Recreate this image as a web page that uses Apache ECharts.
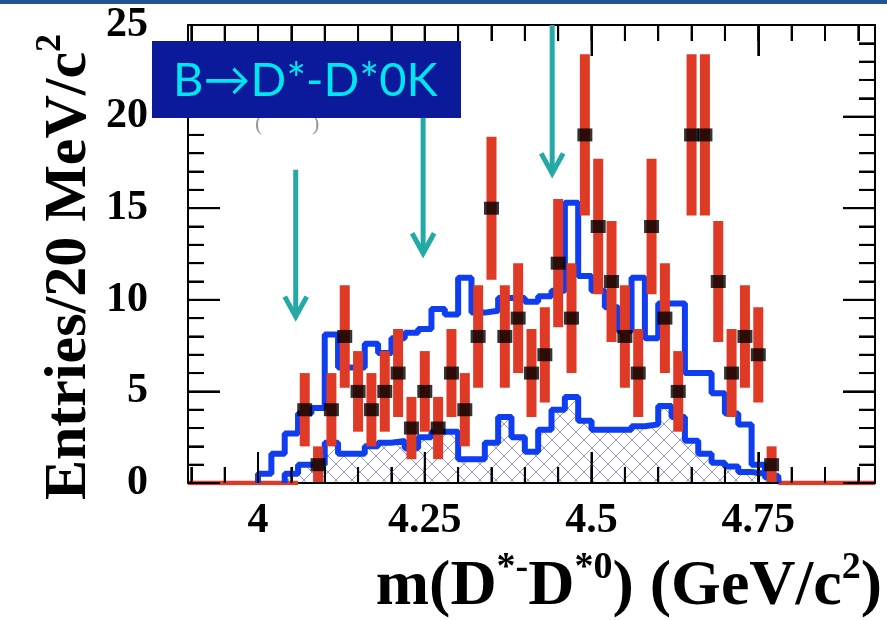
<!DOCTYPE html>
<html><head><meta charset="utf-8">
<script src="https://cdn.jsdelivr.net/npm/echarts@6/dist/echarts.min.js"></script>
<style>html,body{margin:0;padding:0;background:#fff}
#wrap{position:relative;width:887px;height:620px}
#c,#o{position:absolute;left:0;top:0;width:887px;height:620px}
#o{pointer-events:none}</style>
</head><body><div id="wrap"><div id="c"></div><div id="o"></div></div>
<script>
// ---- tick labels / tick positions ----
const xTickLabels = [4, 4.25, 4.5, 4.75];
const xMinorTicks = [3.9,3.95,4.0,4.05,4.1,4.15,4.2,4.25,4.3,4.35,4.4,4.45,4.5,4.55,4.6,4.65,4.7,4.75,4.8,4.85,4.9];
const yTickLabels = [0, 5, 10, 15, 20, 25];
const yMinorTicks = [1,2,3,4,6,7,8,9,11,12,13,14,16,17,18,19,21,22,23,24];

// ---- data points (20 MeV bins) ----
const dataMass   = [4.07,4.09,4.11,4.13,4.15,4.17,4.19,4.21,4.23,4.25,4.27,4.29,4.31,4.33,4.35,4.37,4.39,4.41,4.43,4.45,4.47,4.49,4.51,4.53,4.55,4.57,4.59,4.61,4.63,4.65,4.67,4.69,4.71,4.73,4.75,4.77];
const dataCounts = [4,1,4,8,5,4,5,6,3,5,3,6,4,8,15,8,9,6,7,12,9,19,14,11,8,6,14,9,5,19,19,11,6,8,7,1];
const dataErr    = [2.0,1.0,2.0,2.8,2.2,2.0,2.2,2.4,1.7,2.2,1.7,2.4,2.0,2.8,3.9,2.8,3.0,2.4,2.6,3.5,3.0,4.4,3.7,3.3,2.8,2.4,3.7,3.0,2.2,4.4,4.4,3.3,2.4,2.8,2.6,1.0];
// empty bins drawn as red line at zero
const emptyRanges = [[3.895, 4.06], [4.78, 4.925]];

// ---- MC histograms ----
const mcMass = [4.01,4.03,4.05,4.07,4.09,4.11,4.13,4.15,4.17,4.19,4.21,4.23,4.25,4.27,4.29,4.31,4.33,4.35,4.37,4.39,4.41,4.43,4.45,4.47,4.49,4.51,4.53,4.55,4.57,4.59,4.61,4.63,4.65,4.67,4.69,4.71,4.73,4.75,4.77,4.79];
const mcTotal = [0.5,1.6,2.7,3.8,4.1,8.1,6.3,6.3,7.6,7.1,7.9,8.2,8.4,9.5,9.2,11.2,9.3,9.4,10.1,10.1,9.9,10.2,10.5,15.3,11.3,10.5,9.6,8.3,11.2,7.9,9.8,9.8,6.0,6.0,4.9,3.8,3.2,1.0,0.4,0];
const mcBackground = [0,0,0.5,1.0,1.0,2.2,1.6,1.6,2.0,2.2,2.3,1.9,2.5,2.8,2.8,1.3,1.3,2.2,3.6,2.5,1.7,2.9,4.0,4.7,3.4,2.9,2.9,2.9,3.1,3.2,4.2,3.6,2.3,1.6,1.1,0.9,0.6,0.5,0.3,0];

// ---- annotation arrows (data coords) ----
const arrowX   = [4.0565, 4.2475, 4.441];
const arrowTop = [17.1, 20.5, 25];
const arrowTip = [9.08, 12.54, 16.9];

const XMIN = 3.895, XMAX = 4.925, YMIN = 0, YMAX = 25, HALF = 0.01;
const serif = '"Liberation Serif","Times New Roman",serif';
const BLUE = '#0f3ef0', RED = '#de3a26', TEAL = '#24a9a6';

function stepPoints(centers, vals) {
  let s = 0, e = vals.length - 1;
  while (s <= e && vals[s] === 0) s++;
  while (e >= s && vals[e] === 0) e--;
  const pts = [[centers[s] - HALF, 0]];
  for (let i = s; i <= e; i++) pts.push([centers[i] - HALF, vals[i]]);
  pts.push([centers[e] + HALF, vals[e]]);
  pts.push([centers[e] + HALF, 0]);
  return pts;
}

// crosshatch pattern
const pat = document.createElement('canvas');
pat.width = 16; pat.height = 16;
const g = pat.getContext('2d');
g.strokeStyle = 'rgba(120,120,215,0.8)'; g.lineWidth = 1;
g.beginPath(); g.moveTo(0,0); g.lineTo(16,16); g.moveTo(16,0); g.lineTo(0,16); g.stroke();

function ls() { return {color:'#000', width:2}; }
function xAx(pos, major, showLine) {
  return {type:'value', min:XMIN, max:XMAX, position:pos,
    axisLine:{show:showLine, onZero:false, lineStyle:ls()},
    axisTick:{show:true, inside:true, length: major ? 31 : 16, customValues: (major ? xTickLabels : xMinorTicks).slice(), lineStyle:ls()},
    axisLabel:(pos==='bottom' && major) ? {show:true, customValues:xTickLabels.slice(), formatter:v=>String(v), margin:17,
      fontFamily:serif, fontWeight:'bold', fontSize:42, color:'#000'} : {show:false},
    splitLine:{show:false}};
}
function yAx(pos) {
  return {type:'value', min:YMIN, max:YMAX, interval:5, position:pos,
    axisLine:{show:true, onZero:false, lineStyle:ls()},
    axisTick:{show:true, inside:true, length:32, lineStyle:ls()},
    minorTick:{show:true, splitNumber:5, length:16, lineStyle:ls()},
    axisLabel: pos==='left' ? {show:true, margin:40, formatter:v=>yTickLabels.includes(v)?String(v):'',
      fontFamily:serif, fontWeight:'bold', fontSize:42, color:'#000'} : {show:false},
    splitLine:{show:false}, minorSplitLine:{show:false}};
}

const series = [];
emptyRanges.forEach(r => series.push({type:'line', xAxisIndex:0, yAxisIndex:0, data:[[r[0],0],[r[1],0]],
  showSymbol:false, lineStyle:{color:RED, width:4.5}, z:2, silent:true}));
series.push({type:'line', xAxisIndex:0, yAxisIndex:0, step:'end', data:stepPoints(mcMass, mcBackground),
  showSymbol:false, lineStyle:{color:BLUE, width:6}, areaStyle:{color:{image:pat, repeat:'repeat'}, opacity:1}, z:3, silent:true});
series.push({type:'line', xAxisIndex:0, yAxisIndex:0, step:'end', data:stepPoints(mcMass, mcTotal),
  showSymbol:false, lineStyle:{color:BLUE, width:6}, z:4, silent:true});
series.push({type:'custom', xAxisIndex:0, yAxisIndex:0, z:5,
  data: dataMass.map((m,i)=>[m, dataCounts[i], dataErr[i]]),
  renderItem:(params, api)=>{
    const x = api.value(0), c = api.value(1), e = api.value(2);
    const t = api.coord([x, c + e]), b = api.coord([x, Math.max(0, c - e)]);
    return {type:'rect', shape:{x:t[0]-5, y:t[1], width:10, height:b[1]-t[1]}, style:{fill:RED}};
  }});
series.push({type:'scatter', xAxisIndex:0, yAxisIndex:0, z:6, symbol:'rect', symbolSize:[15,13],
  itemStyle:{color:'#000'}, data: dataMass.map((m,i)=>[m, dataCounts[i]])});

// main chart: axes + data
const chart = echarts.init(document.getElementById('c'), null, {renderer:'canvas'});
chart.setOption({
  animation:false, backgroundColor:'#fff',
  grid:{left:188, right:12, top:25, bottom:137},
  xAxis:[xAx('bottom', true, true), xAx('top', true, true), xAx('bottom', false, false), xAx('top', false, false)],
  yAxis:[yAx('left'), yAx('right')],
  series
});

// pixel helpers through the chart's own scales
const px = v => chart.convertToPixel({xAxisIndex:0}, v);
const py = v => chart.convertToPixel({yAxisIndex:0}, v);
const L = px(XMIN), R = px(XMAX), B = py(YMIN), T = py(YMAX);

const gfx = [];
const frameStyle = () => ({stroke:'#000', lineWidth:2});
// frame (bottom edge only where no red zero line)
gfx.push({type:'line', shape:{x1:L, y1:T, x2:R, y2:T}, style:frameStyle(), z:20});
gfx.push({type:'line', shape:{x1:L, y1:T, x2:L, y2:B}, style:frameStyle(), z:20});
gfx.push({type:'line', shape:{x1:R, y1:T, x2:R, y2:B}, style:frameStyle(), z:20});
gfx.push({type:'line', shape:{x1:px(emptyRanges[0][1]), y1:B, x2:px(emptyRanges[1][0]), y2:B}, style:frameStyle(), z:20});
// ticks on all four sides
xTickLabels.forEach(v => { const x = px(v);
  gfx.push({type:'line', shape:{x1:x, y1:B, x2:x, y2:B-31}, style:frameStyle(), z:20});
  gfx.push({type:'line', shape:{x1:x, y1:T, x2:x, y2:T+31}, style:frameStyle(), z:20}); });
xMinorTicks.forEach(v => { const x = px(v);
  gfx.push({type:'line', shape:{x1:x, y1:B, x2:x, y2:B-16}, style:frameStyle(), z:20});
  gfx.push({type:'line', shape:{x1:x, y1:T, x2:x, y2:T+16}, style:frameStyle(), z:20}); });
yTickLabels.forEach(v => { const y = py(v);
  gfx.push({type:'line', shape:{x1:L, y1:y, x2:L+32, y2:y}, style:frameStyle(), z:20});
  gfx.push({type:'line', shape:{x1:R, y1:y, x2:R-32, y2:y}, style:frameStyle(), z:20}); });
yMinorTicks.forEach(v => { const y = py(v);
  gfx.push({type:'line', shape:{x1:L, y1:y, x2:L+16, y2:y}, style:frameStyle(), z:20});
  gfx.push({type:'line', shape:{x1:R, y1:y, x2:R-16, y2:y}, style:frameStyle(), z:20}); });

// header strip and ghost marks
gfx.push({type:'rect', shape:{x:0,y:0,width:887,height:4}, style:{fill:'#1f5592'}, z:50});
gfx.push({type:'text', x:255, y:124, style:{text:'(', font:'22px "Liberation Serif"', fill:'#999', verticalAlign:'middle'}, z:30});
gfx.push({type:'text', x:312, y:124, style:{text:')', font:'22px "Liberation Serif"', fill:'#999', verticalAlign:'middle'}, z:30});
// arrows
arrowX.forEach((ax, i) => {
  const top = chart.convertToPixel({xAxisIndex:0, yAxisIndex:0}, [ax, arrowTop[i]]);
  const tip = chart.convertToPixel({xAxisIndex:0, yAxisIndex:0}, [ax, arrowTip[i]]);
  gfx.push({type:'line', shape:{x1:top[0], y1:top[1], x2:tip[0], y2:tip[1]-2}, style:{stroke:TEAL, lineWidth:5}, z:40});
  gfx.push({type:'polyline', shape:{points:[[tip[0]-11, tip[1]-20],[tip[0], tip[1]],[tip[0]+11, tip[1]-20]]}, style:{stroke:TEAL, lineWidth:5, fill:'none'}, z:40});
});
// title box
gfx.push({type:'rect', shape:{x:152, y:41, width:309, height:77}, style:{fill:'#0b1a9b'}, z:60});
gfx.push({type:'text', x:173, y:81, style:{text:'B\u2192D*-D*0K', font:'47px Lato, "DejaVu Sans", sans-serif', fill:'#00e6ef', align:'left', verticalAlign:'middle'}, z:61});
// axis titles
gfx.push({type:'text', x:882, y:584, style:{text:'{b|m(D}{s|*-}{b|D}{s|*0}{b|) (GeV/c}{s|2}{b|)}', align:'right', verticalAlign:'middle',
  rich:{b:{fontFamily:serif, fontWeight:'bold', fontSize:64, lineHeight:70, fill:'#000', verticalAlign:'bottom'},
        s:{fontFamily:serif, fontWeight:'bold', fontSize:38, lineHeight:38, fill:'#000', verticalAlign:'top'}}}, z:30});
gfx.push({type:'text', x:66, y:267, rotation:Math.PI/2, style:{text:'{b|Entries/20 MeV/c}{s|2}', align:'center', verticalAlign:'middle',
  rich:{b:{fontFamily:serif, fontWeight:'bold', fontSize:60, lineHeight:66, fill:'#000', verticalAlign:'bottom'},
        s:{fontFamily:serif, fontWeight:'bold', fontSize:36, lineHeight:36, fill:'#000', verticalAlign:'top'}}}, z:30});
const overlay = echarts.init(document.getElementById('o'), null, {renderer:'canvas'});
overlay.setOption({animation:false, graphic:{elements:gfx}});
</script>
</body></html>
